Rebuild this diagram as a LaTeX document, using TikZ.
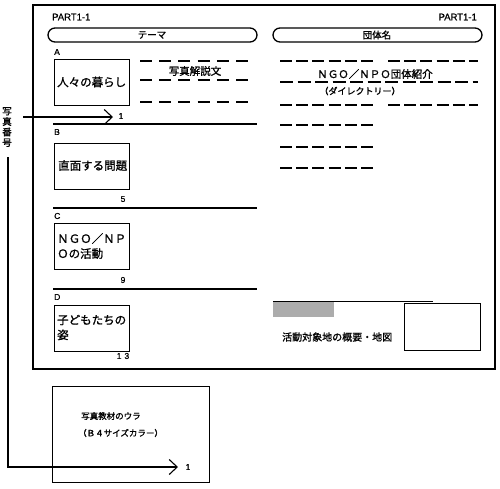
\documentclass[tikz,border=0pt]{standalone}
\usepackage{fontspec}
\setmainfont[FakeBold=0.8,AutoFakeBold=0.8]{Liberation Sans}
\newfontfamily\jp[FakeBold=1.2,AutoFakeBold=1.2]{Noto Sans CJK JP}
\usetikzlibrary{arrows.meta}
\begin{document}
\begin{tikzpicture}[x=1pt,y=-1pt,
  frameline/.style={draw=black, line width=1.5pt},
  capsule/.style={draw=black, line width=1.3pt, rounded corners=7pt},
  photobox/.style={draw=black, line width=1.4pt, minimum width=75pt, minimum height=46pt, inner sep=0pt, anchor=north west},
  boxtext/.style={font=\jp\bfseries\fontsize{11.5}{15}\selectfont, align=left, anchor=west, inner sep=0pt},
  seprule/.style={draw=black, line width=1.3pt},
  dashL/.style={draw=black, line width=1.7pt, dash pattern=on 12pt off 7.2pt},
  dashR/.style={draw=black, line width=1.7pt, dash pattern=on 12pt off 4.2pt},
  dashW/.style={draw=black, line width=1.7pt, dash pattern=on 13pt off 4.5pt},
  letter/.style={font=\bfseries\fontsize{8.5}{10}\selectfont, inner sep=0pt},
  num/.style={font=\bfseries\fontsize{8.5}{10}\selectfont, inner sep=0pt},
  jptext/.style={font=\jp\bfseries\fontsize{10}{12}\selectfont, inner sep=0pt},
  pointer/.style={draw=black, line width=1.1pt, -{Straight Barb[length=8pt,width=15pt,line width=1.1pt]}},
]
\useasboundingbox (0,0) rectangle (500,488);
\fill[white] (0,0) rectangle (500,488);

% main frame
\draw[frameline] (33,5) rectangle (495,369);

% headers
\node[font=\bfseries\fontsize{9.5}{11}\selectfont, anchor=west, inner sep=0pt] (partL) at (52,17) {PART1-1};
\node[font=\bfseries\fontsize{9.5}{11}\selectfont, anchor=east, inner sep=0pt] (partR) at (477,17) {PART1-1};
\draw[capsule] (48,28) rectangle (257,42);
\draw[capsule] (273,28) rectangle (482,42);
\node[jptext, font=\jp\bfseries\fontsize{9.5}{11}\selectfont] (theme) at (152,35) {テーマ};
\node[jptext, font=\jp\bfseries\fontsize{9.5}{11}\selectfont] (org) at (377,35) {団体名};

% section A
\node[letter, anchor=west] (la) at (54,52) {A};
\node[photobox] (boxA) at (54,59) {};
\node[boxtext] (tA) at (57,82) {人々の暮らし};
\draw[dashL] (140,61) -- (248,61);
\draw[dashL] (140,80) -- (248,80);
\draw[dashL] (140,102) -- (248,102);
\node[jptext, font=\jp\bfseries\fontsize{10.5}{12}\selectfont] (caption) at (195,71) {写真解説文};
\draw[seprule] (53,124) -- (257,124);

% section B
\node[letter, anchor=west] (lb) at (54,132) {B};
\node[photobox] (boxB) at (54,143) {};
\node[boxtext] (tB) at (58,165.5) {直面する問題};
\node[num] (n5) at (123,199) {5};
\draw[seprule] (53,208) -- (257,208);

% section C
\node[letter, anchor=west] (lc) at (54,216) {C};
\node[photobox] (boxC) at (54,223) {};
\node[boxtext] (tC) at (57,246) {ＮＧＯ／ＮＰ\\Ｏの活動};
\node[num] (n9) at (123,280) {9};
\draw[seprule] (53,289) -- (257,289);

% section D
\node[letter, anchor=west] (ld) at (54,297) {D};
\node[photobox] (boxD) at (54,305) {};
\node[boxtext] (tD) at (57,327.5) {子どもたちの\\姿};
\node[num] (n13) at (123,356) {1\hspace{3pt}3};

% right column
\draw[dashR] (280,61) -- (373,61);
\draw[dashR] (388,61) -- (478,61);
\draw[dashW] (280,82) -- (478,82);
\node[jptext, font=\jp\bfseries\fontsize{10.5}{12}\selectfont] (ngo) at (375,74) {ＮＧＯ／ＮＰＯ団体紹介};
\node[jptext, font=\jp\bfseries\fontsize{9}{11}\selectfont] (dir) at (360,91) {（ダイレクトリー）};
\draw[dashR] (280,105) -- (373,105);
\draw[dashR] (388,105) -- (478,105);
\draw[dashR] (280,125) -- (373,125);
\draw[dashR] (280,147) -- (373,147);
\draw[dashR] (280,168) -- (373,168);

% map area
\draw[draw=black, line width=0.9pt] (273,301) -- (433,301);
\fill[gray!65] (273,302) rectangle (334,317);
\node[jptext, anchor=west] (mapcap) at (282,337) {活動対象地の概要・地図};
\node[draw=black, line width=1.4pt, minimum width=76pt, minimum height=47pt, inner sep=0pt, anchor=north west] (mapbox) at (404,303) {};

% photo number pointer
\node[jptext, font=\jp\bfseries\fontsize{9.5}{10.5}\selectfont, align=center] (vlabel) at (7,127) {写\\真\\番\\号};
\coordinate (pa) at (23,117);
\coordinate (pb) at (113,117);
\draw[pointer] (pa) -- (pb);
\node[num] (n1a) at (121,116) {1};

% back side box
\node[draw=black, line width=1.4pt, minimum width=157pt, minimum height=96pt, inner sep=0pt, anchor=north west] (back) at (52,386) {};
\node[jptext, font=\jp\bfseries\fontsize{8.5}{10}\selectfont, anchor=west] (back1) at (81,416) {写真教材のウラ};
\node[jptext, font=\jp\bfseries\fontsize{8.5}{10}\selectfont, anchor=west] (back2) at (78,433) {（Ｂ４サイズカラー）};

\coordinate (vtop) at (8,157);
\coordinate (vbot) at (8,467);
\coordinate (btip) at (178,467);
\draw[pointer] (vtop) -- (vbot) -- (btip);
\node[num] (n1b) at (188,467) {1};
\end{tikzpicture}
\end{document}
